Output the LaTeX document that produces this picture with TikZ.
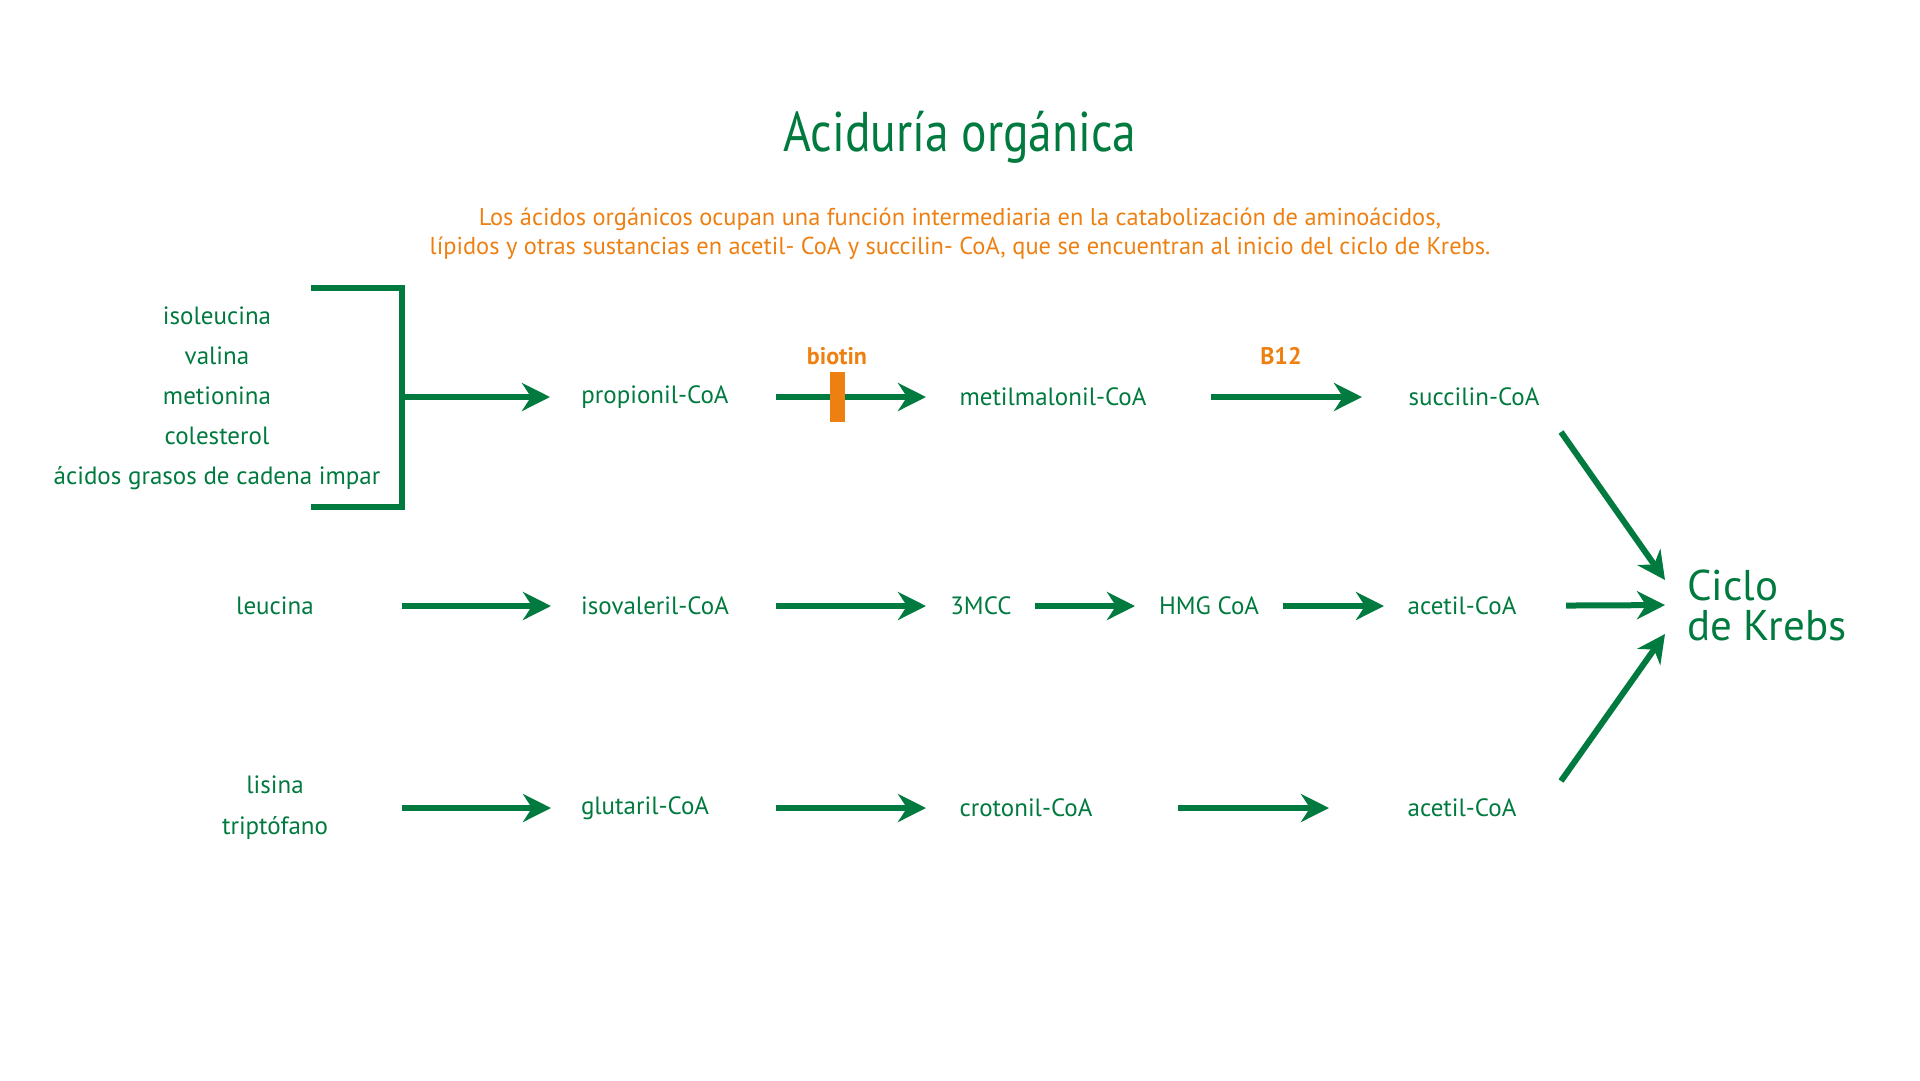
\documentclass[tikz,border=0pt]{standalone}
\usepackage{fontspec}
\setmainfont{PT Sans}
\newfontfamily\titlefont[FakeStretch=0.85]{PT Sans}
\usepackage{xcolor}
\definecolor{krebsgreen}{HTML}{007A3E}
\definecolor{vitorange}{HTML}{EE8011}
\usepackage{tikz}
\usetikzlibrary{arrows.meta}

\begin{document}
\begin{tikzpicture}[x=1pt,y=1pt,>={Stealth[length=28pt,width=28pt,inset=9pt]},line width=6pt]
            \tikzstyle{be}=[->,draw=krebsgreen]
            \tikzstyle{met}=[text=krebsgreen,font=\fontsize{25}{30}\selectfont,inner sep=2pt]
            \tikzstyle{vit}=[text=vitorange,font=\fontsize{24}{28}\selectfont\bfseries]

            \useasboundingbox (0,0) rectangle (1920,-1080);

            % titulo
            \node[text=krebsgreen,font=\titlefont\fontsize{56}{60}\selectfont] (title) at (960,-137) {Aciduría orgánica};
            \node[text=vitorange,font=\fontsize{24.4}{29}\selectfont,align=center] (intro) at (960,-234)
                {Los ácidos orgánicos ocupan una función intermediaria en la catabolización de aminoácidos,\\
                 lípidos y otras sustancias en acetil- CoA y succilin- CoA, que se encuentran al inicio del ciclo de Krebs.};

            % fila 1
            \node[met,align=center,font=\fontsize{25}{40}\selectfont] (src1) at (217,-398)
                {isoleucina\\valina\\metionina\\colesterol\\ácidos grasos de cadena impar};
            \coordinate (brk) at (402,-397);
            \draw[krebsgreen,line cap=butt] (311,-288) -| (402,-507) -- (311,-507);
            \node[met] (prop) at (655,-397) {propionil-CoA};
            \node[met] (metil) at (1053,-397) {metilmalonil-CoA};
            \node[met] (succ) at (1474,-397) {succilin-CoA};

            % fila 2
            \node[met] (leu) at (275,-606) {leucina};
            \node[met] (isov) at (655,-606) {isovaleril-CoA};
            \node[met] (mcc) at (981,-606) {3MCC};
            \node[met] (hmg) at (1209,-606) {HMG CoA};
            \node[met] (acet1) at (1462,-606) {acetil-CoA};

            % fila 3
            \node[met,align=center,font=\fontsize{25}{41}\selectfont] (lys) at (275,-808) {lisina\\triptófano};
            \node[met] (glut) at (645,-808) {glutaril-CoA};
            \node[met] (crot) at (1026,-808) {crotonil-CoA};
            \node[met] (acet2) at (1462,-808) {acetil-CoA};

            \node[text=krebsgreen,font=\fontsize{43}{40}\selectfont,align=left,anchor=west,inner sep=0pt] (krebs) at (1684,-605) {Ciclo\\de Krebs};

            % cofactores
            \node[vit] (biot) at (837,-356) {biotin};
            \node[vit] (b12) at (1281,-356) {B12};

            \path   (brk) edge [be, shorten >=105pt] (prop.center)
                    (prop.center) edge [be, shorten <=121pt, shorten >=127pt] (metil.center)
                    (metil.center) edge [be, shorten <=158pt, shorten >=112pt] (succ.center)
                    (leu.center) edge [be, shorten <=127pt, shorten >=104pt] (isov.center)
                    (isov.center) edge [be, shorten <=121pt, shorten >=55pt] (mcc.center)
                    (mcc.center) edge [be, shorten <=54pt, shorten >=74pt] (hmg.center)
                    (hmg.center) edge [be, shorten <=74pt, shorten >=78pt] (acet1.center)
                    (lys.center) edge [be, shorten <=127pt, shorten >=94pt] (glut.center)
                    (glut.center) edge [be, shorten <=131pt, shorten >=100pt] (crot.center)
                    (crot.center) edge [be, shorten <=152pt, shorten >=133pt] (acet2.center)
                    (acet1.center) edge [be, shorten <=104pt, shorten >=19pt] (krebs.west)
                    ([shift={(87pt,-35pt)}]succ.center) edge [be] ([shift={(-19pt,25pt)}]krebs.west)
                    ([shift={(99pt,27pt)}]acet2.center) edge [be] ([shift={(-19pt,-29pt)}]krebs.west);

            \node[fill=vitorange,minimum width=15pt,minimum height=50pt,inner sep=0pt] (blk) at (837,-397) {};
        \end{tikzpicture}
\end{document}
